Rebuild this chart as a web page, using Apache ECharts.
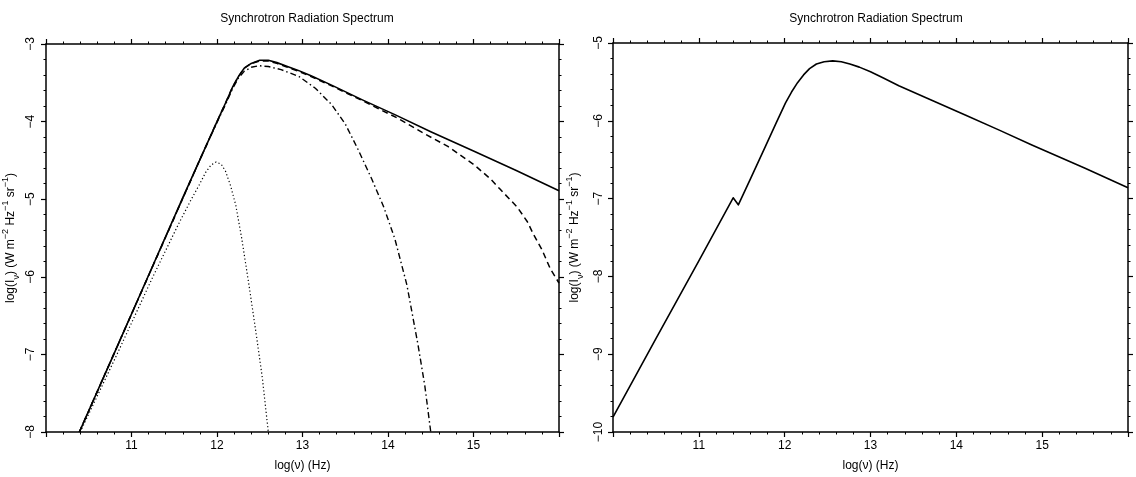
<!DOCTYPE html>
<html>
<head>
<meta charset="utf-8">
<title>Synchrotron Radiation Spectrum</title>
<script src="https://cdn.jsdelivr.net/npm/echarts@6/dist/echarts.min.js"></script>
<style>
html, body { margin:0; padding:0; background:#fff; }
#chart { width:1136px; height:477px; }
</style>
</head>
<body>
<div id="chart"></div>
<script>
// x ticks shown on both panels
const xTicks = [11, 12, 13, 14, 15]

// left panel: total spectrum and its three components, [log(nu), log(I_nu)]
const leftTotal = [
  [10.39, -8.00], [10.80, -6.98], [11.20, -5.98], [11.60, -4.98], [11.80, -4.49],
  [12.00, -4.00], [12.10, -3.76], [12.18, -3.56], [12.25, -3.42], [12.32, -3.31],
  [12.40, -3.25], [12.50, -3.21], [12.60, -3.21], [12.70, -3.24], [12.80, -3.28],
  [12.95, -3.34], [13.10, -3.41], [13.34, -3.53], [13.70, -3.72], [14.08, -3.91],
  [14.50, -4.13], [15.00, -4.38], [15.50, -4.63], [16.00, -4.89]
]
const leftLowCut = [
  [10.40, -8.00], [10.83, -7.00], [11.25, -6.00], [11.55, -5.32], [11.70, -5.00],
  [11.79, -4.82], [11.87, -4.65], [11.93, -4.56], [11.99, -4.52], [12.05, -4.55],
  [12.10, -4.64], [12.16, -4.83], [12.22, -5.08], [12.29, -5.51], [12.38, -6.15],
  [12.46, -6.75], [12.53, -7.30], [12.60, -8.00]
]
const leftMidCut = [
  [10.39, -8.00], [11.80, -4.49], [12.00, -4.01], [12.10, -3.78], [12.18, -3.58],
  [12.25, -3.44], [12.32, -3.35], [12.40, -3.30], [12.49, -3.28], [12.60, -3.29],
  [12.75, -3.33], [12.96, -3.42], [13.15, -3.57], [13.34, -3.78], [13.50, -4.03],
  [13.65, -4.36], [13.81, -4.74], [13.95, -5.10], [14.08, -5.51], [14.22, -6.10],
  [14.35, -6.87], [14.43, -7.40], [14.50, -8.00]
]
const leftHighCut = [
  [10.39, -8.00], [11.80, -4.49], [12.00, -4.00], [12.10, -3.76], [12.18, -3.56],
  [12.25, -3.42], [12.32, -3.31], [12.40, -3.25], [12.50, -3.22], [12.60, -3.22],
  [12.70, -3.25], [12.80, -3.29], [12.95, -3.35], [13.10, -3.42], [13.34, -3.54],
  [13.70, -3.73], [14.12, -3.96], [14.40, -4.14], [14.70, -4.32], [15.00, -4.55],
  [15.20, -4.74], [15.31, -4.87], [15.51, -5.10], [15.63, -5.29], [15.70, -5.45],
  [15.80, -5.65], [15.90, -5.90], [16.00, -6.08]
]

// right panel: single spectrum with the small step near 11.4
const rightTotal = [
  [10.00, -9.81], [10.50, -8.80], [11.00, -7.80], [11.40, -6.99], [11.46, -7.08],
  [11.60, -6.75], [11.78, -6.32], [11.90, -6.03], [12.01, -5.77], [12.08, -5.63],
  [12.15, -5.51], [12.22, -5.41], [12.29, -5.33], [12.37, -5.27], [12.46, -5.24],
  [12.56, -5.23], [12.66, -5.24], [12.76, -5.27], [12.87, -5.31], [13.00, -5.37],
  [13.15, -5.45], [13.33, -5.55], [13.70, -5.73], [14.11, -5.93], [14.50, -6.12],
  [14.88, -6.31], [15.50, -6.61], [16.00, -6.86]
]

const font = '"Liberation Sans", Arial, sans-serif'
const black = '#000'
const minus = v => String(v).replace('-', '\u2212')

const yName = 'log(I{s|\u03bd}) (W m{p|\u22122} Hz{p|\u22121} sr{p|\u22121})'
const nameRich = {
  s: { fontSize: 9, verticalAlign: 'bottom', lineHeight: 20, fontFamily: font, color: black },
  p: { fontSize: 9, verticalAlign: 'top', lineHeight: 20, fontFamily: font, color: black }
}

function xAxis(gridIndex, position, withLabels) {
  return {
    type: 'value', gridIndex: gridIndex, position: position,
    min: 10, max: 16, interval: 1,
    name: withLabels ? 'log(\u03bd) (Hz)' : '',
    nameLocation: 'middle', nameGap: 28,
    nameTextStyle: { fontFamily: font, fontSize: 12, color: black },
    axisLine: { onZero: false, lineStyle: { color: black, width: 1.5 } },
    axisTick: { show: true, length: 5, lineStyle: { color: black, width: 1.2 } },
    minorTick: { show: true, splitNumber: 5, length: 2.5, lineStyle: { color: black, width: 1 } },
    axisLabel: {
      show: withLabels, margin: 8, fontFamily: font, fontSize: 12, color: black,
      showMinLabel: false, showMaxLabel: false,
      formatter: v => (xTicks.indexOf(v) >= 0 ? String(v) : '')
    },
    splitLine: { show: false }
  }
}

function yAxis(gridIndex, position, min, max, withLabels, nameGap, labelMargin) {
  return {
    type: 'value', gridIndex: gridIndex, position: position,
    min: min, max: max, interval: 1,
    name: withLabels ? yName : '',
    nameLocation: 'middle', nameGap: nameGap,
    nameTextStyle: { fontFamily: font, fontSize: 12, color: black, lineHeight: 20, rich: nameRich },
    axisLine: { onZero: false, lineStyle: { color: black, width: 1.5 } },
    axisTick: { show: true, length: 5, lineStyle: { color: black, width: 1.2 } },
    minorTick: { show: true, splitNumber: 5, length: 2.5, lineStyle: { color: black, width: 1 } },
    axisLabel: {
      show: withLabels, rotate: 90, margin: labelMargin,
      fontFamily: font, fontSize: 12, color: black, formatter: minus
    },
    splitLine: { show: false }
  }
}

function line(data, xi, type, width) {
  return {
    type: 'line', xAxisIndex: xi, yAxisIndex: xi, data: data,
    symbol: 'none', smooth: false, silent: true, clip: true,
    lineStyle: { color: black, width: width, type: type, join: 'round' }
  }
}

const chart = echarts.init(document.getElementById('chart'), null, { renderer: 'canvas' })
chart.setOption({
  backgroundColor: '#fff',
  animation: false,
  title: [
    { text: 'Synchrotron Radiation Spectrum', left: 302, top: 8, textAlign: 'center',
      textStyle: { fontFamily: font, fontSize: 12, fontWeight: 'normal', color: black } },
    { text: 'Synchrotron Radiation Spectrum', left: 871, top: 8, textAlign: 'center',
      textStyle: { fontFamily: font, fontSize: 12, fontWeight: 'normal', color: black } }
  ],
  grid: [
    { left: 45, top: 44, width: 514, height: 391 },
    { left: 613, top: 43, width: 515, height: 390 }
  ],
  xAxis: [
    xAxis(0, 'bottom', true), xAxis(0, 'top', false),
    xAxis(1, 'bottom', true), xAxis(1, 'top', false)
  ],
  yAxis: [
    yAxis(0, 'left', -8, -3, true, 25, 9), yAxis(0, 'right', -8, -3, false, 0, 8),
    yAxis(1, 'left', -10, -5, true, 28, 8), yAxis(1, 'right', -10, -5, false, 0, 8)
  ],
  series: [
    line(leftTotal, 0, 'solid', 1.6),
    line(leftLowCut, 0, [1.2, 2.4], 1.2),
    line(leftMidCut, 0, [6, 3, 1.5, 3], 1.4),
    line(leftHighCut, 0, [6, 4], 1.5),
    line(rightTotal, 2, 'solid', 1.6)
  ]
})
</script>
</body>
</html>
